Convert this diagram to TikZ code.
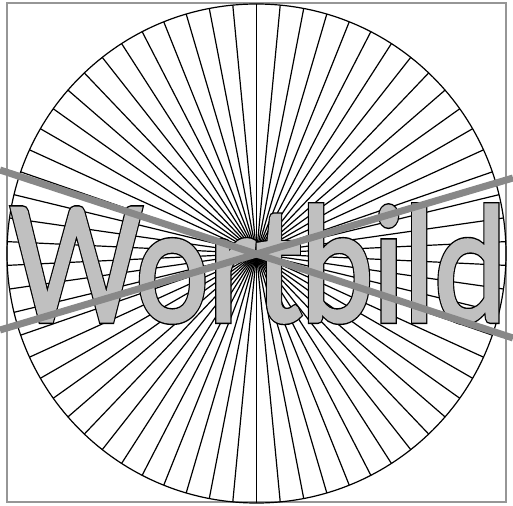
\documentclass[tikz,border=0pt]{standalone}
\usepackage{fontspec}
\setmainfont{Lato}
\newfontfamily\wordface{Lato}[FakeBold=2]
\newfontfamily\wordrim{Lato}[FakeBold=3.8]
\usepackage{graphicx}
\usepackage{tikz}
\definecolor{frameGray}{RGB}{150,150,150}
\definecolor{wordGray}{RGB}{192,192,192}
\definecolor{barGray}{RGB}{136,136,136}
\newcommand{\wortbild}[1]{\resizebox{496pt}{116pt}{\fontsize{100pt}{100pt}#1Wortbild}}

\begin{document}
\begin{tikzpicture}[x=1pt, y=-1pt,
    rim/.style={draw=frameGray, line width=1.5pt},
    spoke/.style={black, line width=1.2pt},
    wordfill/.style={inner sep=0pt, anchor=base},
    bar/.style={barGray, line width=7pt}]
  \useasboundingbox (0,0) rectangle (513,505);
  % --- frame ---
  \draw[rim] (7,3) rectangle (506,502);
  % --- wheel of spokes ---
  \coordinate (hub) at (256.5,253.5);
  \foreach \k in {0,...,65}
    \draw[spoke] (hub) -- ++({90+\k*(360/66)}:249.5);
  \draw[line width=1.2pt] (hub) circle (249.5);
  % --- the word: black rim under grey face ---
  \node[wordfill, text=black] (wordrim) at (258,321) {\wortbild{\wordrim}};
  \node[wordfill, text=wordGray] (word) at (258,321) {\wortbild{\wordface}};
  % --- crossing bars ---
  \coordinate (barAin) at (0,170);
  \coordinate (barAout) at (513,338);
  \coordinate (barBin) at (0,330);
  \coordinate (barBout) at (513,178);
  \draw[bar] (barAin) -- (barAout);
  \draw[bar] (barBin) -- (barBout);
\end{tikzpicture}
\end{document}
